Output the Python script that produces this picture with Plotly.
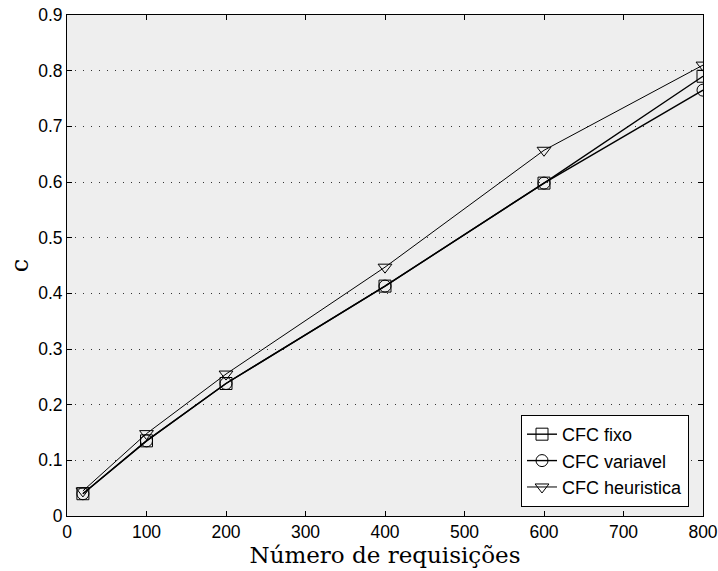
import plotly.graph_objects as go

x_vals = [20, 100, 200, 400, 600, 800]
cfc_fixo = [0.040, 0.135, 0.238, 0.413, 0.598, 0.790]
cfc_variavel = [0.040, 0.135, 0.238, 0.413, 0.598, 0.765]
cfc_heuristica = [0.045, 0.148, 0.255, 0.447, 0.657, 0.810]

x_ticks = [0, 100, 200, 300, 400, 500, 600, 700, 800]
y_ticks = [0, 0.1, 0.2, 0.3, 0.4, 0.5, 0.6, 0.7, 0.8, 0.9]
y_tick_text = ["0", "0.1", "0.2", "0.3", "0.4", "0.5", "0.6", "0.7", "0.8", "0.9"]

series = [
    ("CFC fixo", cfc_fixo, "square-open", 1.4),
    ("CFC variavel", cfc_variavel, "circle-open", 1.4),
    ("CFC heuristica", cfc_heuristica, "triangle-down-open", 1.0),
]

fig = go.Figure()
for name, ys, sym, w in series:
    fig.add_trace(go.Scatter(
        x=x_vals, y=ys, name=name, mode="lines+markers",
        line=dict(color="black", width=w),
        marker=dict(symbol=sym, size=12, color="black", line=dict(color="black", width=1)),
    ))

fig.update_layout(
    width=718, height=571,
    margin=dict(l=67, r=15, t=15, b=55, autoexpand=False),
    paper_bgcolor="white", plot_bgcolor="#eeeeee",
    font=dict(family="Liberation Sans, Arial", size=17.5, color="black"),
    showlegend=True,
    legend=dict(x=0.978, y=0.018, xanchor="right", yanchor="bottom",
                bgcolor="white", bordercolor="black", borderwidth=1,
                font=dict(size=18, family="Liberation Sans, Arial"),
                tracegroupgap=0),
)
fig.update_xaxes(
    range=[0, 800], tickvals=x_ticks,
    showgrid=False, zeroline=False, automargin=False,
    ticks="inside", ticklen=5, tickcolor="black",
    showline=True, linecolor="black", linewidth=1, mirror="ticks",
    ticklabeloverflow="allow",
    title=dict(text="Número de requisições", font=dict(family="DejaVu Serif, Liberation Serif", size=23), standoff=0),
)
fig.update_yaxes(
    range=[0, 0.9], tickvals=y_ticks, ticktext=y_tick_text,
    showgrid=True, gridcolor="#333333", griddash="1px,7px", gridwidth=1,
    zeroline=False, automargin=False,
    ticks="inside", ticklen=5, tickcolor="black",
    showline=True, linecolor="black", linewidth=1, mirror="ticks",
    ticklabeloverflow="allow",
    title=dict(text="c", font=dict(family="DejaVu Serif, Liberation Serif", size=24), standoff=2),
)

fig.write_html("out.html")
